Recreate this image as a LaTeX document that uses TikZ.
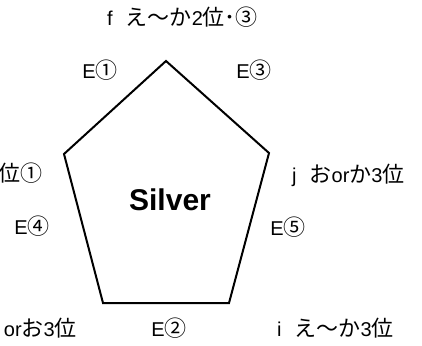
\documentclass[tikz,border=0pt]{standalone}
\usepackage{fontspec}
\setmainfont{Liberation Sans}
\newfontfamily\jp[Scale=1.1]{Noto Sans CJK JP}
\usetikzlibrary{positioning}

\begin{document}
\begin{tikzpicture}[x=1pt,y=-1pt,
  lbl/.style={inner sep=0pt,font=\fontsize{20}{24}\selectfont},
  side/.style={line width=2pt,line join=miter}]
  \useasboundingbox (0,0) rectangle (422,345);
  % pentagon corners
  \coordinate (top) at (166,61);
  \coordinate (ul) at (64,154);
  \coordinate (ur) at (269,153);
  \coordinate (ll) at (103,303);
  \coordinate (lr) at (229,303);
  \draw[side] (top) -- (ur) -- (lr) -- (ll) -- (ul) -- cycle;
  \node[font=\fontsize{30}{34}\selectfont\bfseries] (silver) at (170,200) {Silver};
  % labels round the pentagon
  \node[lbl,anchor=west] (f) at (107,17) {f\hspace{13pt}{\jp え～か}2{\jp 位}{\jp ･③}};
  \node[lbl] (e1) at (100,70) {E{\jp ①}};
  \node[lbl] (e3) at (254,70) {E{\jp ③}};
  \node[lbl,anchor=east] (g) at (43,173) {{\jp 位①}};
  \node[lbl,anchor=west] (j) at (292,175) {j\hspace{13pt}{\jp お}or{\jp か}3{\jp 位}};
  \node[lbl] (e4) at (32,226) {E{\jp ④}};
  \node[lbl] (e5) at (288,227) {E{\jp ⑤}};
  \node[lbl,anchor=east] (h) at (77,328) {or{\jp お}3{\jp 位}};
  \node[lbl] (e2) at (169,328) {E{\jp ②}};
  \node[lbl,anchor=west] (i) at (277,328) {i\hspace{13pt}{\jp え～か}3{\jp 位}};
\end{tikzpicture}
\end{document}
